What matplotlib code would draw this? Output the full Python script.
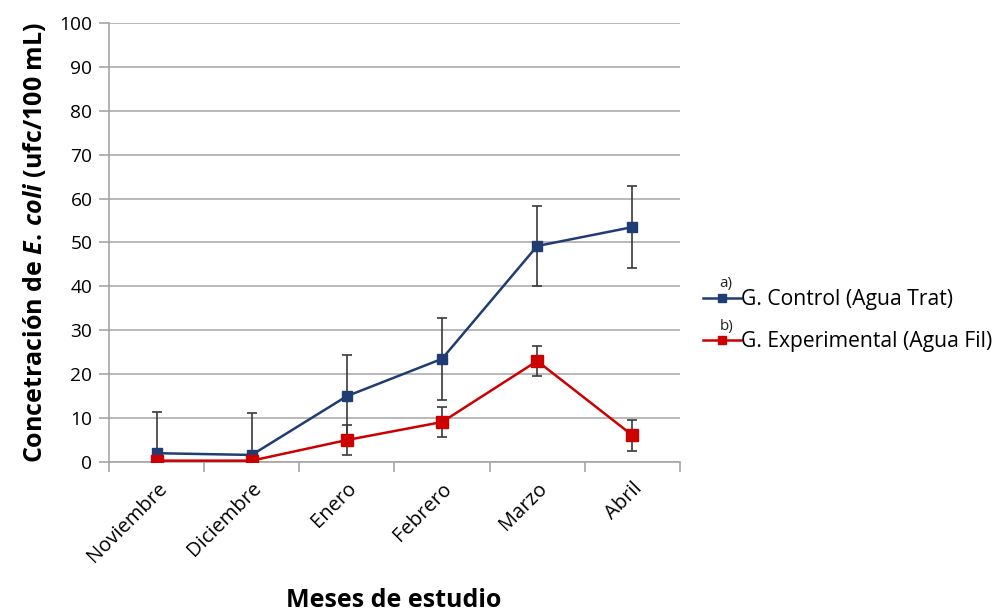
import matplotlib
matplotlib.use("Agg")
import matplotlib.pyplot as plt
from matplotlib.lines import Line2D
import numpy as np

months = ["Noviembre", "Diciembre", "Enero", "Febrero", "Marzo", "Abril"]
control = [2.0, 1.6, 15.0, 23.5, 49.2, 53.5]
control_err = [9.4, 9.5, 9.3, 9.4, 9.2, 9.3]
experimental = [0.3, 0.3, 5.0, 9.1, 23.0, 6.1]
experimental_err = [0.0, 0.0, 3.4, 3.4, 3.4, 3.5]
yticks = list(range(0, 101, 10))

plt.rcParams['font.family'] = ['Open Sans', 'DejaVu Sans']
plt.rcParams['mathtext.fontset'] = 'custom'
plt.rcParams['mathtext.it'] = 'Open Sans:italic:bold'
plt.rcParams['mathtext.rm'] = 'Open Sans:bold'

fig = plt.figure(figsize=(10.05, 6.14), dpi=100)
ax = fig.add_axes([0.1085, 0.2476, 0.568, 0.7149])

x = np.arange(len(months))
blue = "#1f3d73"
red = "#cc0000"
ecol = "#3a3a3a"

ax.errorbar(x, control, yerr=control_err, color=blue, lw=1.8, marker='s', ms=7,
            ecolor=ecol, elinewidth=1.2, capsize=3.5, capthick=1.2, zorder=3)
ax.errorbar(x, experimental, yerr=experimental_err, color=red, lw=1.8, marker='s', ms=8,
            ecolor=ecol, elinewidth=1.2, capsize=3.5, capthick=1.2, zorder=4)

ax.set_xlim(-0.5, len(months) - 0.5)
ax.set_ylim(0, 100)
ax.set_yticks(yticks)
ax.grid(axis='y', color='#b3b3b3', lw=1.3)
ax.set_axisbelow(True)
for s in ['top', 'right']:
    ax.spines[s].set_visible(False)
ax.spines['left'].set_color('#a6a6a6')
ax.spines['bottom'].set_color('#a6a6a6')
ax.spines['left'].set_linewidth(1.2)
ax.spines['bottom'].set_linewidth(1.2)

ax.set_xticks(x)
ax.set_xticklabels(months, rotation=45, ha='right', rotation_mode='anchor', fontsize=14.5)
ax.tick_params(axis='x', which='major', length=0, pad=12)
ax.set_xticks(np.arange(-0.5, len(months), 1), minor=True)
ax.tick_params(axis='x', which='minor', length=7, color='#a6a6a6', width=1.2)
ax.tick_params(axis='y', length=7, color='#a6a6a6', width=1.2, labelsize=13.8, pad=5)

ax.set_ylabel(r'Concetración de $\mathit{E.\,coli}$ (ufc/100 mL)', fontsize=18,
              fontweight='bold', labelpad=8)
fig.text(0.392, 0.012, 'Meses de estudio', fontsize=18, fontweight='bold', ha='center')

handles = [Line2D([0], [0], color=blue, marker='s', ms=6, lw=1.8),
           Line2D([0], [0], color=red, marker='s', ms=6, lw=1.8)]
leg = ax.legend(handles, ["G. Control (Agua Trat)", "G. Experimental (Agua Fil)"],
                loc='center left', bbox_to_anchor=(0.6995, 0.478), bbox_transform=fig.transFigure,
                frameon=False, fontsize=15.2, handlelength=1.8, handletextpad=0.0,
                labelspacing=1.0, borderaxespad=0, borderpad=0)
fig.text(0.716, 0.533, 'a)', fontsize=11, color='#222222')
fig.text(0.716, 0.463, 'b)', fontsize=11, color='#222222')

fig.savefig("out.png", dpi=100)
